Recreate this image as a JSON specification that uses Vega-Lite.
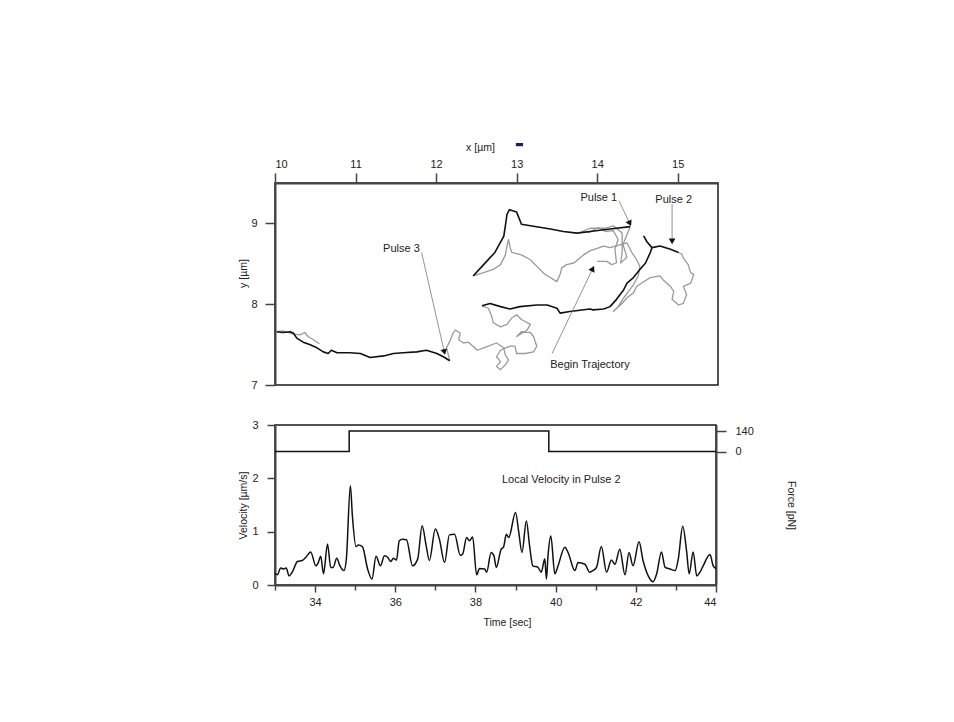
{
  "$schema": "https://vega.github.io/schema/vega-lite/v6.json",
  "background": "white",
  "padding": {"top": 141, "left": 238, "right": 0, "bottom": 0},
  "config": {
    "font": "Liberation Sans",
    "view": {"stroke": "#1a1a1a", "strokeWidth": 1.5},
    "axis": {
      "grid": false,
      "domainColor": "#444",
      "domainWidth": 2,
      "tickColor": "#444",
      "tickWidth": 1.5,
      "labelFont": "Liberation Sans",
      "labelFontSize": 11,
      "labelColor": "#222",
      "labelOverlap": false,
      "titleFont": "Liberation Sans",
      "titleFontSize": 10.5,
      "titleFontWeight": "normal",
      "titleColor": "#222"
    },
    "text": {"font": "Liberation Sans", "fontSize": 11, "color": "#222"}
  },
  "datasets": {
    "traj": [
      {"seg":"g1","kind":"gray","x":14.00,"y":8.53},{"seg":"g1","kind":"gray","x":14.12,"y":8.53},{"seg":"g1","kind":"gray","x":14.18,"y":8.49},{"seg":"g1","kind":"gray","x":14.24,"y":8.51},{"seg":"g1","kind":"gray","x":14.22,"y":8.68},{"seg":"g1","kind":"gray","x":14.26,"y":8.80},{"seg":"g1","kind":"gray","x":14.20,"y":8.91},{"seg":"g1","kind":"gray","x":14.10,"y":8.90},{"seg":"g1","kind":"gray","x":14.01,"y":8.95},{"seg":"g1","kind":"gray","x":13.91,"y":8.89},{"seg":"g1","kind":"gray","x":13.79,"y":8.89},{"seg":"g1","kind":"gray","x":13.91,"y":8.94},{"seg":"g1","kind":"gray","x":14.10,"y":8.94},{"seg":"g1","kind":"gray","x":14.20,"y":8.97},{"seg":"g1","kind":"gray","x":14.31,"y":8.88},{"seg":"g1","kind":"gray","x":14.31,"y":8.64},{"seg":"g1","kind":"gray","x":14.29,"y":8.51},{"seg":"g1","kind":"gray","x":14.37,"y":8.58},{"seg":"g1","kind":"gray","x":14.32,"y":8.74},{"seg":"g1","kind":"gray","x":14.41,"y":8.96},
      {"seg":"b1","kind":"black","x":14.41,"y":8.96},{"seg":"b1","kind":"black","x":14.16,"y":8.93},{"seg":"b1","kind":"black","x":13.91,"y":8.90},{"seg":"b1","kind":"black","x":13.75,"y":8.88},{"seg":"b1","kind":"black","x":13.58,"y":8.90},{"seg":"b1","kind":"black","x":13.42,"y":8.93},{"seg":"b1","kind":"black","x":13.17,"y":8.97},{"seg":"b1","kind":"black","x":13.06,"y":8.99},{"seg":"b1","kind":"black","x":13.00,"y":9.14},{"seg":"b1","kind":"black","x":12.91,"y":9.17},{"seg":"b1","kind":"black","x":12.88,"y":9.11},{"seg":"b1","kind":"black","x":12.86,"y":8.97},{"seg":"b1","kind":"black","x":12.84,"y":8.84},{"seg":"b1","kind":"black","x":12.73,"y":8.64},{"seg":"b1","kind":"black","x":12.59,"y":8.49},{"seg":"b1","kind":"black","x":12.46,"y":8.35},
      {"seg":"g2","kind":"gray","x":12.46,"y":8.35},{"seg":"g2","kind":"gray","x":12.59,"y":8.39},{"seg":"g2","kind":"gray","x":12.71,"y":8.43},{"seg":"g2","kind":"gray","x":12.80,"y":8.49},{"seg":"g2","kind":"gray","x":12.86,"y":8.61},{"seg":"g2","kind":"gray","x":12.88,"y":8.72},{"seg":"g2","kind":"gray","x":12.90,"y":8.80},{"seg":"g2","kind":"gray","x":12.92,"y":8.70},{"seg":"g2","kind":"gray","x":12.94,"y":8.64},{"seg":"g2","kind":"gray","x":13.06,"y":8.61},{"seg":"g2","kind":"gray","x":13.17,"y":8.55},{"seg":"g2","kind":"gray","x":13.27,"y":8.45},{"seg":"g2","kind":"gray","x":13.35,"y":8.37},{"seg":"g2","kind":"gray","x":13.50,"y":8.28},{"seg":"g2","kind":"gray","x":13.54,"y":8.37},{"seg":"g2","kind":"gray","x":13.56,"y":8.45},{"seg":"g2","kind":"gray","x":13.62,"y":8.49},{"seg":"g2","kind":"gray","x":13.71,"y":8.51},{"seg":"g2","kind":"gray","x":13.83,"y":8.61},{"seg":"g2","kind":"gray","x":13.91,"y":8.66},{"seg":"g2","kind":"gray","x":14.00,"y":8.69},{"seg":"g2","kind":"gray","x":14.08,"y":8.72},{"seg":"g2","kind":"gray","x":14.16,"y":8.70},{"seg":"g2","kind":"gray","x":14.27,"y":8.73},{"seg":"g2","kind":"gray","x":14.37,"y":8.76},{"seg":"g2","kind":"gray","x":14.43,"y":8.64},{"seg":"g2","kind":"gray","x":14.49,"y":8.55},{"seg":"g2","kind":"gray","x":14.53,"y":8.47},{"seg":"g2","kind":"gray","x":14.51,"y":8.35},{"seg":"g2","kind":"gray","x":14.45,"y":8.24},{"seg":"g2","kind":"gray","x":14.39,"y":8.16},{"seg":"g2","kind":"gray","x":14.33,"y":8.08},{"seg":"g2","kind":"gray","x":14.26,"y":7.97},{"seg":"g2","kind":"gray","x":14.20,"y":7.91},{"seg":"g2","kind":"gray","x":14.29,"y":7.99},{"seg":"g2","kind":"gray","x":14.37,"y":8.08},{"seg":"g2","kind":"gray","x":14.45,"y":8.14},{"seg":"g2","kind":"gray","x":14.49,"y":8.22},{"seg":"g2","kind":"gray","x":14.58,"y":8.28},{"seg":"g2","kind":"gray","x":14.66,"y":8.33},{"seg":"g2","kind":"gray","x":14.78,"y":8.35},{"seg":"g2","kind":"gray","x":14.82,"y":8.30},{"seg":"g2","kind":"gray","x":14.91,"y":8.22},{"seg":"g2","kind":"gray","x":14.95,"y":8.16},{"seg":"g2","kind":"gray","x":14.93,"y":8.06},{"seg":"g2","kind":"gray","x":15.01,"y":7.99},{"seg":"g2","kind":"gray","x":15.07,"y":8.01},{"seg":"g2","kind":"gray","x":15.11,"y":8.12},{"seg":"g2","kind":"gray","x":15.07,"y":8.22},{"seg":"g2","kind":"gray","x":15.16,"y":8.26},{"seg":"g2","kind":"gray","x":15.20,"y":8.37},{"seg":"g2","kind":"gray","x":15.16,"y":8.39},{"seg":"g2","kind":"gray","x":15.13,"y":8.49},{"seg":"g2","kind":"gray","x":15.07,"y":8.57},{"seg":"g2","kind":"gray","x":15.05,"y":8.62},{"seg":"g2","kind":"gray","x":15.01,"y":8.64},
      {"seg":"b2","kind":"black","x":15.01,"y":8.64},{"seg":"b2","kind":"black","x":14.91,"y":8.68},{"seg":"b2","kind":"black","x":14.78,"y":8.72},{"seg":"b2","kind":"black","x":14.68,"y":8.70},{"seg":"b2","kind":"black","x":14.62,"y":8.77},{"seg":"b2","kind":"black","x":14.58,"y":8.84},{"seg":"b2","kind":"black","x":14.62,"y":8.77},{"seg":"b2","kind":"black","x":14.68,"y":8.70},{"seg":"b2","kind":"black","x":14.66,"y":8.64},{"seg":"b2","kind":"black","x":14.60,"y":8.51},{"seg":"b2","kind":"black","x":14.53,"y":8.43},{"seg":"b2","kind":"black","x":14.45,"y":8.33},{"seg":"b2","kind":"black","x":14.37,"y":8.26},{"seg":"b2","kind":"black","x":14.33,"y":8.18},{"seg":"b2","kind":"black","x":14.24,"y":8.06},{"seg":"b2","kind":"black","x":14.16,"y":7.97},{"seg":"b2","kind":"black","x":14.08,"y":7.94},{"seg":"b2","kind":"black","x":13.95,"y":7.93},{"seg":"b2","kind":"black","x":13.91,"y":7.94},{"seg":"b2","kind":"black","x":13.66,"y":7.91},{"seg":"b2","kind":"black","x":13.54,"y":7.89},{"seg":"b2","kind":"black","x":13.50,"y":7.95},{"seg":"b2","kind":"black","x":13.38,"y":7.99},{"seg":"b2","kind":"black","x":13.25,"y":7.99},{"seg":"b2","kind":"black","x":13.04,"y":7.97},{"seg":"b2","kind":"black","x":12.92,"y":7.94},{"seg":"b2","kind":"black","x":12.80,"y":7.97},{"seg":"b2","kind":"black","x":12.67,"y":8.01},{"seg":"b2","kind":"black","x":12.57,"y":7.98},
      {"seg":"g3","kind":"gray","x":12.57,"y":7.98},{"seg":"g3","kind":"gray","x":12.65,"y":7.95},{"seg":"g3","kind":"gray","x":12.69,"y":7.85},{"seg":"g3","kind":"gray","x":12.71,"y":7.77},{"seg":"g3","kind":"gray","x":12.80,"y":7.72},{"seg":"g3","kind":"gray","x":12.88,"y":7.75},{"seg":"g3","kind":"gray","x":12.94,"y":7.83},{"seg":"g3","kind":"gray","x":13.00,"y":7.87},{"seg":"g3","kind":"gray","x":13.06,"y":7.81},{"seg":"g3","kind":"gray","x":13.17,"y":7.75},{"seg":"g3","kind":"gray","x":13.13,"y":7.68},{"seg":"g3","kind":"gray","x":13.00,"y":7.60},{"seg":"g3","kind":"gray","x":13.06,"y":7.66},{"seg":"g3","kind":"gray","x":13.17,"y":7.65},{"seg":"g3","kind":"gray","x":13.21,"y":7.60},{"seg":"g3","kind":"gray","x":13.25,"y":7.48},{"seg":"g3","kind":"gray","x":13.21,"y":7.41},{"seg":"g3","kind":"gray","x":13.11,"y":7.39},{"seg":"g3","kind":"gray","x":13.00,"y":7.39},{"seg":"g3","kind":"gray","x":12.98,"y":7.48},{"seg":"g3","kind":"gray","x":12.92,"y":7.48},{"seg":"g3","kind":"gray","x":12.86,"y":7.46},{"seg":"g3","kind":"gray","x":12.80,"y":7.43},{"seg":"g3","kind":"gray","x":12.75,"y":7.35},{"seg":"g3","kind":"gray","x":12.80,"y":7.29},{"seg":"g3","kind":"gray","x":12.75,"y":7.23},{"seg":"g3","kind":"gray","x":12.80,"y":7.19},{"seg":"g3","kind":"gray","x":12.86,"y":7.25},{"seg":"g3","kind":"gray","x":12.90,"y":7.31},{"seg":"g3","kind":"gray","x":12.86,"y":7.37},{"seg":"g3","kind":"gray","x":12.84,"y":7.46},{"seg":"g3","kind":"gray","x":12.75,"y":7.52},{"seg":"g3","kind":"gray","x":12.59,"y":7.46},{"seg":"g3","kind":"gray","x":12.51,"y":7.43},{"seg":"g3","kind":"gray","x":12.46,"y":7.48},{"seg":"g3","kind":"gray","x":12.40,"y":7.53},{"seg":"g3","kind":"gray","x":12.34,"y":7.52},{"seg":"g3","kind":"gray","x":12.28,"y":7.56},{"seg":"g3","kind":"gray","x":12.30,"y":7.64},{"seg":"g3","kind":"gray","x":12.24,"y":7.68},{"seg":"g3","kind":"gray","x":12.21,"y":7.64},{"seg":"g3","kind":"gray","x":12.17,"y":7.54},{"seg":"g3","kind":"gray","x":12.13,"y":7.46},{"seg":"g3","kind":"gray","x":12.17,"y":7.30},
      {"seg":"b3","kind":"black","x":12.17,"y":7.30},{"seg":"b3","kind":"black","x":12.09,"y":7.35},{"seg":"b3","kind":"black","x":12.01,"y":7.39},{"seg":"b3","kind":"black","x":11.88,"y":7.43},{"seg":"b3","kind":"black","x":11.76,"y":7.41},{"seg":"b3","kind":"black","x":11.59,"y":7.40},{"seg":"b3","kind":"black","x":11.47,"y":7.39},{"seg":"b3","kind":"black","x":11.35,"y":7.36},{"seg":"b3","kind":"black","x":11.18,"y":7.34},{"seg":"b3","kind":"black","x":11.06,"y":7.39},{"seg":"b3","kind":"black","x":10.93,"y":7.40},{"seg":"b3","kind":"black","x":10.77,"y":7.40},{"seg":"b3","kind":"black","x":10.70,"y":7.43},{"seg":"b3","kind":"black","x":10.66,"y":7.39},{"seg":"b3","kind":"black","x":10.60,"y":7.41},{"seg":"b3","kind":"black","x":10.52,"y":7.46},{"seg":"b3","kind":"black","x":10.43,"y":7.50},{"seg":"b3","kind":"black","x":10.35,"y":7.53},{"seg":"b3","kind":"black","x":10.27,"y":7.58},{"seg":"b3","kind":"black","x":10.23,"y":7.64},{"seg":"b3","kind":"black","x":10.19,"y":7.66},{"seg":"b3","kind":"black","x":10.10,"y":7.65},{"seg":"b3","kind":"black","x":10.02,"y":7.66},
      {"seg":"g4","kind":"gray","x":10.02,"y":7.66},{"seg":"g4","kind":"gray","x":10.10,"y":7.67},{"seg":"g4","kind":"gray","x":10.23,"y":7.63},{"seg":"g4","kind":"gray","x":10.31,"y":7.62},{"seg":"g4","kind":"gray","x":10.37,"y":7.65},{"seg":"g4","kind":"gray","x":10.41,"y":7.60},{"seg":"g4","kind":"gray","x":10.48,"y":7.56},{"seg":"g4","kind":"gray","x":10.55,"y":7.51}
    ],
    "labels": [
      {"label": "Pulse 1", "x": 14.02, "y": 9.31},
      {"label": "Pulse 2", "x": 14.95, "y": 9.29},
      {"label": "Pulse 3", "x": 11.57, "y": 8.68},
      {"label": "Begin Trajectory", "x": 13.91, "y": 7.25}
    ],
    "arrows": [
      {"name": "Pulse 1", "x": 14.40, "y": 9.01, "xs": 14.27, "ys": 9.28},
      {"name": "Pulse 2", "x": 14.93, "y": 8.79, "xs": 14.93, "ys": 9.24},
      {"name": "Pulse 3", "x": 12.10, "y": 7.42, "xs": 11.82, "ys": 8.64},
      {"name": "Begin Trajectory", "x": 13.94, "y": 8.43, "xs": 13.44, "ys": 7.39}
    ],
    "blip": [{"x": 12.99, "x2": 13.08, "y": 9.955, "y2": 9.995}],
    "vel": [
      {"t":33.00,"v":0.22},{"t":33.06,"v":0.19},{"t":33.14,"v":0.32},{"t":33.22,"v":0.30},{"t":33.28,"v":0.32},{"t":33.35,"v":0.17},{"t":33.43,"v":0.24},{"t":33.56,"v":0.44},{"t":33.68,"v":0.46},{"t":33.77,"v":0.52},{"t":33.89,"v":0.62},{"t":34.02,"v":0.36},{"t":34.08,"v":0.42},{"t":34.14,"v":0.54},{"t":34.21,"v":0.21},{"t":34.31,"v":0.77},{"t":34.39,"v":0.33},{"t":34.45,"v":0.33},{"t":34.54,"v":0.50},{"t":34.62,"v":0.36},{"t":34.72,"v":0.27},{"t":34.78,"v":0.49},{"t":34.88,"v":1.86},{"t":34.93,"v":1.30},{"t":35.02,"v":0.72},{"t":35.08,"v":0.75},{"t":35.18,"v":0.72},{"t":35.31,"v":0.30},{"t":35.42,"v":0.11},{"t":35.52,"v":0.54},{"t":35.63,"v":0.36},{"t":35.73,"v":0.55},{"t":35.81,"v":0.52},{"t":35.89,"v":0.44},{"t":35.95,"v":0.50},{"t":36.03,"v":0.47},{"t":36.10,"v":0.83},{"t":36.18,"v":0.86},{"t":36.28,"v":0.85},{"t":36.43,"v":0.36},{"t":36.56,"v":0.49},{"t":36.67,"v":1.11},{"t":36.77,"v":0.74},{"t":36.85,"v":0.46},{"t":37.00,"v":1.05},{"t":37.10,"v":0.86},{"t":37.23,"v":0.42},{"t":37.35,"v":0.94},{"t":37.48,"v":0.95},{"t":37.62,"v":0.56},{"t":37.68,"v":0.58},{"t":37.78,"v":0.89},{"t":37.85,"v":0.83},{"t":37.93,"v":0.90},{"t":38.03,"v":0.19},{"t":38.10,"v":0.31},{"t":38.23,"v":0.30},{"t":38.28,"v":0.24},{"t":38.39,"v":0.61},{"t":38.46,"v":0.55},{"t":38.52,"v":0.33},{"t":38.64,"v":0.67},{"t":38.70,"v":0.71},{"t":38.77,"v":0.95},{"t":38.83,"v":0.89},{"t":39.00,"v":1.36},{"t":39.08,"v":0.99},{"t":39.16,"v":0.61},{"t":39.27,"v":1.20},{"t":39.35,"v":0.74},{"t":39.43,"v":0.36},{"t":39.56,"v":0.33},{"t":39.64,"v":0.24},{"t":39.73,"v":0.49},{"t":39.77,"v":0.11},{"t":39.81,"v":0.55},{"t":39.88,"v":0.92},{"t":39.98,"v":0.21},{"t":40.06,"v":0.36},{"t":40.23,"v":0.71},{"t":40.31,"v":0.61},{"t":40.48,"v":0.27},{"t":40.56,"v":0.42},{"t":40.73,"v":0.39},{"t":40.85,"v":0.24},{"t":40.93,"v":0.27},{"t":41.02,"v":0.33},{"t":41.14,"v":0.72},{"t":41.27,"v":0.24},{"t":41.39,"v":0.47},{"t":41.48,"v":0.39},{"t":41.60,"v":0.67},{"t":41.73,"v":0.19},{"t":41.83,"v":0.61},{"t":41.93,"v":0.36},{"t":42.08,"v":0.81},{"t":42.18,"v":0.46},{"t":42.31,"v":0.17},{"t":42.43,"v":0.06},{"t":42.52,"v":0.21},{"t":42.64,"v":0.62},{"t":42.73,"v":0.33},{"t":42.85,"v":0.30},{"t":42.98,"v":0.27},{"t":43.06,"v":0.49},{"t":43.17,"v":1.10},{"t":43.27,"v":0.61},{"t":43.33,"v":0.21},{"t":43.43,"v":0.62},{"t":43.52,"v":0.17},{"t":43.60,"v":0.24},{"t":43.68,"v":0.36},{"t":43.85,"v":0.57},{"t":43.93,"v":0.36},{"t":44.00,"v":0.31}
    ],
    "force": [
      {"t": 33.0, "f": 0}, {"t": 34.85, "f": 140}, {"t": 39.83, "f": 0}, {"t": 44.0, "f": 0}
    ]
  },
  "spacing": 27,
  "vconcat": [
    {
      "width": 443,
      "height": 202,
      "encoding": {
        "x": {
          "field": "x", "type": "quantitative",
          "scale": {"domain": [10, 15.5], "nice": false, "zero": false},
          "axis": {
            "orient": "top",
            "values": [10,10.25,10.5,10.75,11,11.25,11.5,11.75,12,12.25,12.5,12.75,13,13.25,13.5,13.75,14,14.25,14.5,14.75,15,15.25,15.5],
            "format": "d",
            "labelExpr": "datum.value % 1 === 0 ? datum.label : ''",
            "tickSize": {"condition": {"test": "datum.value % 1 === 0", "value": 10}, "value": 5},
            "labelPadding": 4,
            "title": "x [µm]",
            "titleX": 205,
            "titleY": -36,
            "titleBaseline": "middle"
          }
        },
        "y": {
          "field": "y", "type": "quantitative",
          "scale": {"domain": [7, 9.5], "nice": false, "zero": false},
          "axis": {
            "values": [7,7.25,7.5,7.75,8,8.25,8.5,8.75,9,9.25,9.5],
            "format": "d",
            "labelExpr": "datum.value % 1 === 0 ? datum.label : ''",
            "tickSize": {"condition": {"test": "datum.value % 1 === 0", "value": 10}, "value": 6},
            "labelPadding": 8,
            "title": "y [µm]",
            "titlePadding": 2,
            "titleY": 90
          }
        }
      },
      "layer": [
        {
          "data": {"name": "traj"},
          "transform": [{"window": [{"op": "row_number", "as": "i"}]}, {"filter": "datum.kind === 'gray'"}],
          "mark": {"type": "line", "color": "#9a9a9a", "strokeWidth": 1.3, "strokeJoin": "round"},
          "encoding": {"detail": {"field": "seg"}, "order": {"field": "i", "type": "quantitative"}}
        },
        {
          "data": {"name": "traj"},
          "transform": [{"window": [{"op": "row_number", "as": "i"}]}, {"filter": "datum.kind === 'black'"}],
          "mark": {"type": "line", "color": "#111", "strokeWidth": 1.6, "strokeJoin": "round"},
          "encoding": {"detail": {"field": "seg"}, "order": {"field": "i", "type": "quantitative"}}
        },
        {
          "data": {"name": "arrows"},
          "mark": {"type": "rule", "color": "#777", "strokeWidth": 0.8},
          "encoding": {"x2": {"field": "xs"}, "y2": {"field": "ys"}}
        },
        {
          "data": {"name": "arrows"},
          "transform": [{"calculate": "atan2(datum.x - datum.xs, datum.y - datum.ys) * 180 / PI", "as": "ang"}],
          "mark": {"type": "point", "shape": "triangle", "filled": true, "color": "#111", "size": 45, "opacity": 1},
          "encoding": {"angle": {"field": "ang", "type": "quantitative", "scale": null}}
        },
        {
          "data": {"name": "labels"},
          "mark": {"type": "text", "fontSize": 11, "color": "#222"},
          "encoding": {"text": {"field": "label"}}
        },
        {
          "data": {"name": "blip"},
          "mark": {"type": "rect", "color": "#1b1f6b"},
          "encoding": {"x2": {"field": "x2"}, "y2": {"field": "y2"}}
        }
      ]
    },
    {
      "width": 441,
      "height": 160,
      "encoding": {
        "x": {
          "field": "t", "type": "quantitative",
          "scale": {"domain": [33, 44], "nice": false, "zero": false},
          "axis": {
            "values": [33,34,35,36,37,38,39,40,41,42,43,44],
            "format": "d",
            "labelExpr": "datum.value % 2 === 0 ? datum.label : ''",
            "tickSize": {"condition": {"test": "datum.value % 2 === 0", "value": 7}, "value": 5},
            "labelPadding": 4,
            "title": "Time [sec]",
            "titleX": 232,
            "titleY": 37,
            "titleBaseline": "middle"
          }
        }
      },
      "layer": [
        {
          "layer": [
            {
              "data": {"name": "vel"},
              "mark": {"type": "line", "interpolate": "monotone", "color": "#111", "strokeWidth": 1.5},
              "encoding": {
                "y": {
                  "field": "v", "type": "quantitative",
                  "scale": {"domain": [0, 3], "nice": false, "zero": false},
                  "axis": {
                    "values": [0,0.5,1,1.5,2,2.5,3],
                    "labelExpr": "datum.value % 1 === 0 ? format(datum.value, 'd') : ''",
                    "tickSize": {"condition": {"test": "datum.value % 1 === 0", "value": 8}, "value": 5},
                    "labelPadding": 9,
                    "title": "Velocity [µm/s]",
                    "titlePadding": 3
                  }
                }
              }
            },
            {
              "data": {"values": [{"t": 40.14, "v": 1.97, "label": "Local Velocity in Pulse 2"}]},
              "mark": {"type": "text", "fontSize": 11, "color": "#222"},
              "encoding": {
                "y": {"field": "v", "type": "quantitative"},
                "text": {"field": "label"}
              }
            }
          ]
        },
        {
          "data": {"name": "force"},
          "mark": {"type": "line", "interpolate": "step-after", "color": "#111", "strokeWidth": 1.5},
          "encoding": {
            "y": {
              "field": "f", "type": "quantitative",
              "scale": {"domain": [-909, 181], "nice": false, "zero": false},
              "axis": {
                "orient": "right",
                "values": [0, 140],
                "tickSize": 10,
                "labelPadding": 9,
                "title": "Force [pN]",
                "titleAngle": 90,
                "titlePadding": 32
              }
            }
          }
        }
      ],
      "resolve": {"scale": {"y": "independent"}}
    }
  ]
}
